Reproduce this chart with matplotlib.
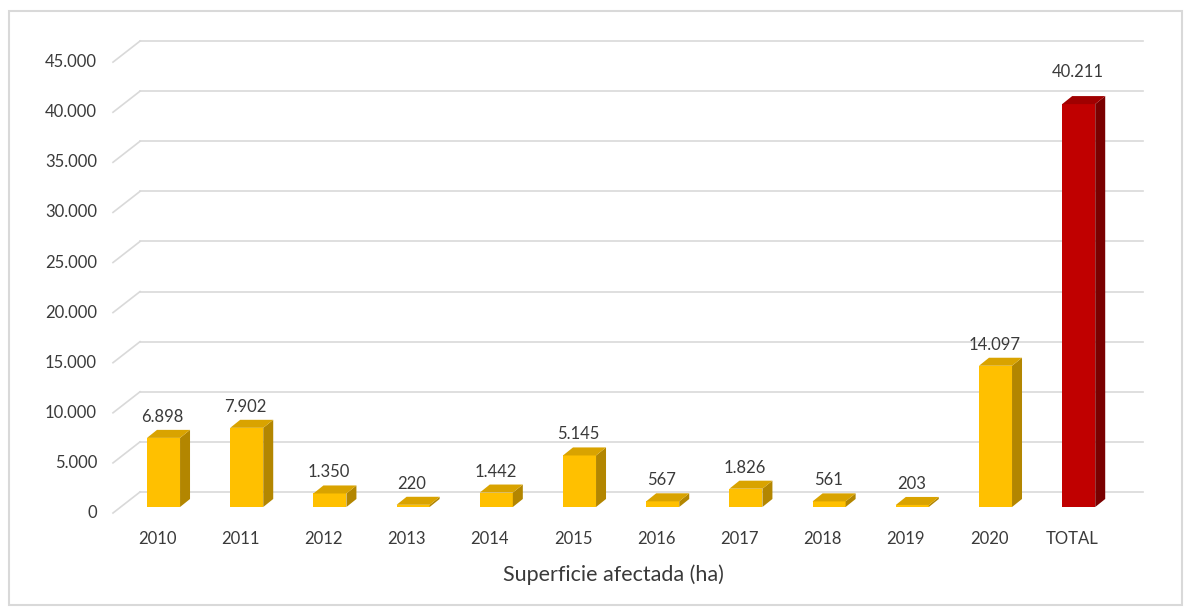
import matplotlib
matplotlib.use("Agg")
import matplotlib.pyplot as plt
from matplotlib.patches import Polygon, Rectangle

# data
categories = ['2010', '2011', '2012', '2013', '2014', '2015', '2016', '2017',
              '2018', '2019', '2020', 'TOTAL']
values = [6898, 7902, 1350, 220, 1442, 5145, 567, 1826, 561, 203, 14097, 40211]
labels = ['6.898', '7.902', '1.350', '220', '1.442', '5.145', '567', '1.826',
          '561', '203', '14.097', '40.211']
yticks = [0, 5000, 10000, 15000, 20000, 25000, 30000, 35000, 40000, 45000]
ytick_labels = ['0', '5.000', '10.000', '15.000', '20.000', '25.000', '30.000',
                '35.000', '40.000', '45.000']

plt.rcParams['font.family'] = ['Lato', 'DejaVu Sans']

fig = plt.figure(figsize=(11.84, 6.07), dpi=100)
ax = fig.add_axes([0, 0, 1, 1])
ax.set_xlim(-1.887, 12.344)
ax.set_ylim(-9980, 50600)
ax.axis('off')

txt = '#3a3a3a'
grid = '#d9d9d9'

# pseudo-3D geometry (in data units)
wall_dy = 1500      # back wall shift up
wall_x0, wall_x1 = -0.204, 11.85
front_x = -0.529
front_dy = -600
bar_off = -0.12
bar_w = 0.397
dep_x = 0.12
dep_y = 800

# back wall gridlines + left wall diagonals + tick labels
for v, lab in zip(yticks, ytick_labels):
    ax.plot([wall_x0, wall_x1], [v + wall_dy, v + wall_dy], color=grid, lw=1.2, zorder=1)
    ax.plot([front_x, wall_x0], [v + front_dy, v + wall_dy], color=grid, lw=1.2, zorder=1)
    ax.text(-0.721, v + front_dy, lab, ha='right', va='center', fontsize=12, color=txt)

# bars
for i, (v, lab) in enumerate(zip(values, labels)):
    if categories[i] == 'TOTAL':
        cf, cs, ct = '#c00000', '#7a0000', '#a00000'
        extra = 1100
    else:
        cf, cs, ct = '#ffc000', '#b38600', '#d9a300'
        extra = 0
    x0 = i + bar_off
    x1 = x0 + bar_w
    front = Polygon([(x0, 0), (x1, 0), (x1, v), (x0, v)], closed=True,
                    facecolor=cf, edgecolor='none', zorder=3)
    side = Polygon([(x1, 0), (x1 + dep_x, dep_y), (x1 + dep_x, v + dep_y), (x1, v)],
                   closed=True, facecolor=cs, edgecolor='none', zorder=3)
    top = Polygon([(x0, v), (x1, v), (x1 + dep_x, v + dep_y), (x0 + dep_x, v + dep_y)],
                  closed=True, facecolor=ct, edgecolor='none', zorder=3)
    ax.add_patch(front)
    ax.add_patch(side)
    ax.add_patch(top)
    ax.text(i + 0.066, v + 2100 + extra, lab, ha='center', va='center',
            fontsize=12, color=txt, zorder=4)
    ax.text(i, -3190, categories[i], ha='center', va='center', fontsize=12, color=txt)

ax.text(5.49, -6790, 'Superficie afectada (ha)', ha='center', va='center',
        fontsize=15.5, color=txt)

# chart border
fig.patches.append(Rectangle((9 / 1184, 2 / 607), 1173 / 1184, 594 / 607,
                             transform=fig.transFigure, fill=False,
                             edgecolor='#d9d9d9', lw=1.5))

fig.savefig('out.png', dpi=100)
